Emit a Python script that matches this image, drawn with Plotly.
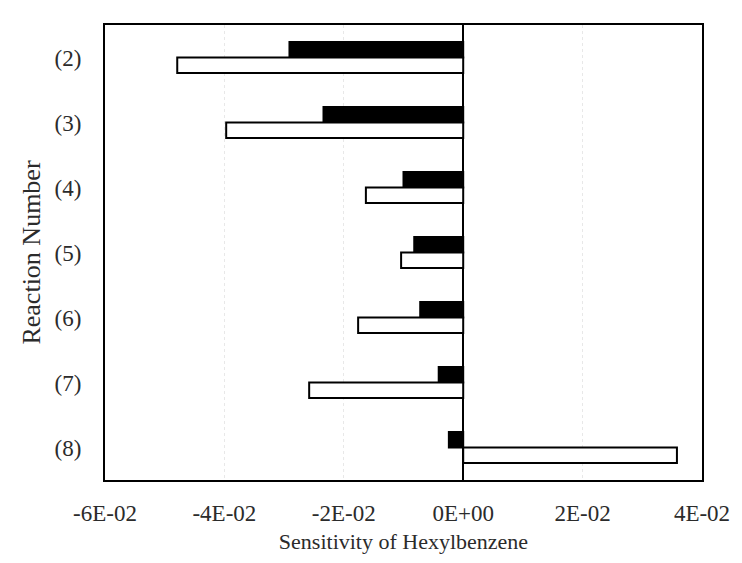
import plotly.graph_objects as go

categories = ["(2)", "(3)", "(4)", "(5)", "(6)", "(7)", "(8)"]
series_black = [-0.0291, -0.0234, -0.0100, -0.0082, -0.0072, -0.0041, -0.0024]
series_white = [-0.0479, -0.0397, -0.0163, -0.0104, -0.0176, -0.0258, 0.0358]
x_tickvals = [-0.06, -0.04, -0.02, 0.0, 0.02, 0.04]
x_ticktext = ["-6E-02", "-4E-02", "-2E-02", "0E+00", "2E-02", "4E-02"]

FONT = "Liberation Serif"
TXT = "#2b2b2b"

fig = go.Figure()
fig.add_trace(go.Bar(
    y=categories, x=series_black, orientation="h",
    marker=dict(color="black", line=dict(color="black", width=2)),
    showlegend=False,
))
fig.add_trace(go.Bar(
    y=categories, x=series_white, orientation="h",
    marker=dict(color="white", line=dict(color="black", width=2)),
    showlegend=False,
))

fig.update_layout(
    width=742, height=563,
    margin=dict(l=105, r=36, t=25, b=83),
    paper_bgcolor="white", plot_bgcolor="white",
    barmode="group", bargap=0.52, bargroupgap=0,
    font=dict(family=FONT, color=TXT, size=20),
)
fig.update_xaxes(
    range=[-0.06, 0.04], tickvals=x_tickvals, ticktext=x_ticktext,
    tickfont=dict(family=FONT, size=23, color=TXT),
    showgrid=True, gridcolor="#e8e8e8", griddash="dot", gridwidth=1,
    zeroline=True, zerolinecolor="black", zerolinewidth=2,
    showline=True, linecolor="black", linewidth=2, mirror=True,
    ticks="", ticklabelstandoff=11,
    title=dict(text="Sensitivity of Hexylbenzene", font=dict(family=FONT, size=22, color=TXT), standoff=9),
)
fig.update_yaxes(
    autorange="reversed",
    tickfont=dict(family=FONT, size=23, color=TXT),
    showgrid=False,
    showline=True, linecolor="black", linewidth=2, mirror=True,
    ticks="", ticklabelstandoff=17,
    title=dict(text="Reaction Number", font=dict(family=FONT, size=26, color=TXT), standoff=6),
)

fig.write_html("out.html")
